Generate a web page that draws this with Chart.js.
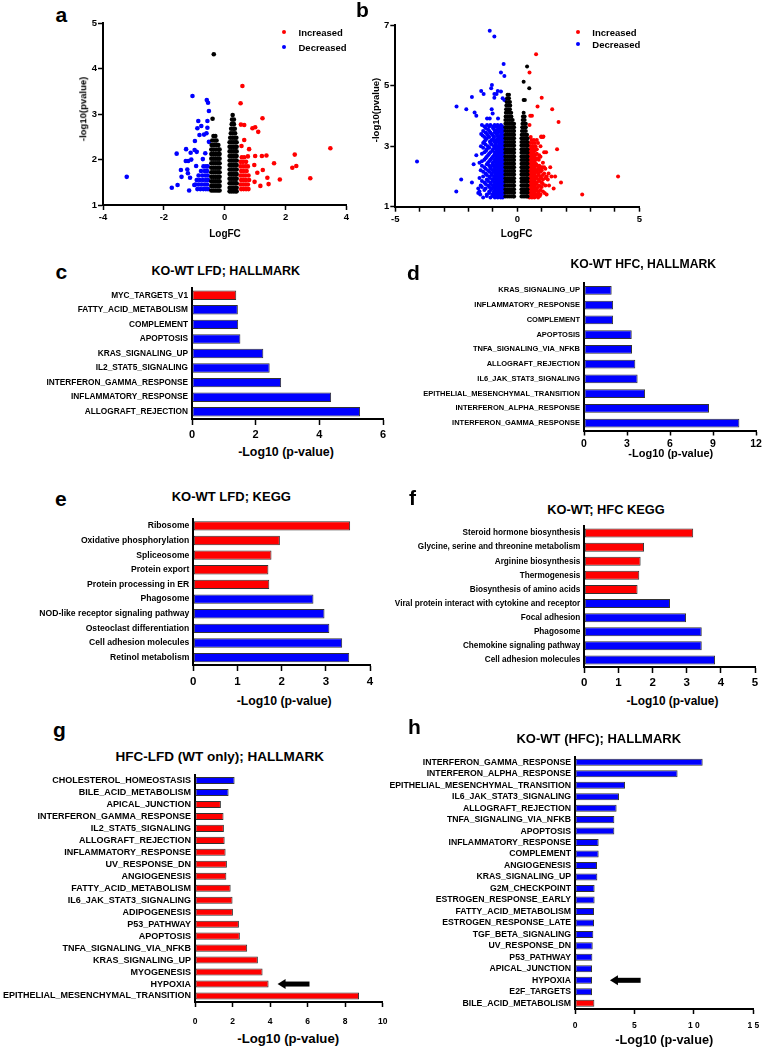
<!DOCTYPE html>
<html>
<head>
<meta charset="utf-8">
<script src="https://cdn.jsdelivr.net/npm/chart.js@4.4.1/dist/chart.umd.min.js"></script>
<style>
body { margin: 0; background: #fff; }
#page { position: relative; width: 763px; height: 1050px; overflow: hidden; font-family: 'Liberation Sans', Arial, sans-serif; font-weight: bold; color: #000; }
#page canvas { position: absolute; }
.t { position: absolute; white-space: nowrap; line-height: 1; }
.dot { position: absolute; border-radius: 50%; }
</style>
</head>
<body>
<div id="page"></div>
<script>
// ---------- volcano a (KO-WT LFD) : pairs are [logFC, -log10 p], rows are [y, x, x, ...] ----------
const aUpPairs = [[0.58,3.62],[0.52,3.24],[1.24,2.91],[0.53,2.77],[0.64,2.76],[0.91,2.69],[1.00,2.71],[1.10,2.61],[0.64,2.43],[0.55,2.30],
  [0.80,2.23],[1.00,2.08],[1.22,2.08],[1.37,2.09],[0.76,2.07],[3.47,2.25],[2.30,2.11],[1.62,1.92],[2.35,1.86],[2.22,1.82],
  [0.97,1.88],[1.25,1.77],[1.07,1.71],[1.40,1.60],[1.81,1.56],[2.81,1.59],[0.98,1.51],[1.44,1.46],[1.17,1.42]];
const aUpRows = [
  [2.05, 0.56, 0.64], [1.95, 0.52, 0.60, 0.70], [1.85, 0.52, 0.60, 0.68, 0.76], [1.75, 0.54, 0.62, 0.72],
  [1.65, 0.52, 0.60, 0.68, 0.78], [1.55, 0.54, 0.62, 0.70, 0.80], [1.45, 0.52, 0.60, 0.68, 0.76], [1.35, 0.54, 0.62, 0.70, 0.78]];
const aDownPairs = [[-3.22,1.62],[-1.06,3.40],[-0.59,3.31],[-0.55,3.25],[-0.52,3.07],[-0.87,2.85],[-0.57,2.85],[-0.77,2.74],[-0.90,2.69],
  [-0.57,2.70],[-0.60,2.58],[-0.83,2.54],[-0.68,2.55],[-0.98,2.41],[-0.52,2.39],[-1.27,2.23],[-1.12,2.15],[-0.99,2.21],[-0.92,2.17],
  [-1.58,2.13],[-1.28,1.97],[-1.20,1.97],[-1.10,2.00],[-0.72,2.01],[-0.64,2.14],[-0.94,1.86],[-1.44,1.77],[-1.23,1.78],[-1.42,1.62],
  [-1.21,1.70],[-1.14,1.60],[-1.74,1.38],[-1.55,1.44],[-1.17,1.32],[-1.00,1.44]];
const aDownRows = [
  [1.85, -0.70, -0.62, -0.56], [1.75, -0.78, -0.66, -0.58], [1.65, -0.86, -0.74, -0.64, -0.56],
  [1.55, -0.92, -0.82, -0.72, -0.62, -0.55], [1.45, -0.96, -0.86, -0.76, -0.66, -0.58], [1.35, -0.90, -0.80, -0.70, -0.62, -0.55]];
const aNsPairs = [[-0.36,4.32],[-0.40,2.90]];
const aNsRows = [
  [2.52, -0.37, -0.31], [2.42, -0.41, -0.33, -0.27], [2.32, -0.43, -0.35, -0.27, -0.21], [2.22, -0.44, -0.37, -0.29, -0.21, -0.17],
  [2.12, -0.44, -0.37, -0.30, -0.23, -0.17], [2.02, -0.44, -0.37, -0.30, -0.23, -0.17], [1.92, -0.44, -0.37, -0.30, -0.23, -0.17],
  [1.82, -0.44, -0.37, -0.30, -0.23, -0.17], [1.72, -0.44, -0.37, -0.30, -0.23, -0.17], [1.62, -0.44, -0.37, -0.30, -0.23, -0.17],
  [1.52, -0.44, -0.37, -0.30, -0.23, -0.17], [1.42, -0.44, -0.37, -0.30, -0.23, -0.17], [1.32, -0.44, -0.37, -0.30, -0.23, -0.17],
  [2.98, 0.26], [2.88, 0.24, 0.30], [2.78, 0.23, 0.30], [2.68, 0.21, 0.28, 0.33], [2.58, 0.20, 0.27, 0.34],
  [2.48, 0.18, 0.25, 0.32, 0.38], [2.38, 0.16, 0.22, 0.28, 0.34, 0.39], [2.28, 0.16, 0.22, 0.28, 0.34, 0.39],
  [2.18, 0.16, 0.22, 0.28, 0.34, 0.39], [2.08, 0.16, 0.22, 0.28, 0.34, 0.39], [1.98, 0.16, 0.22, 0.28, 0.34, 0.39],
  [1.88, 0.16, 0.22, 0.28, 0.34, 0.39], [1.78, 0.16, 0.22, 0.28, 0.34, 0.39], [1.68, 0.16, 0.22, 0.28, 0.34, 0.39],
  [1.58, 0.16, 0.22, 0.28, 0.34, 0.39], [1.48, 0.16, 0.22, 0.28, 0.34, 0.39], [1.38, 0.16, 0.22, 0.28, 0.34, 0.39],
  [1.30, 0.16, 0.22, 0.28, 0.34, 0.39]];
const aXTicks = [-4, 4, 2];   // min, max, step
const aYTicks = [1, 5, 1];

// ---------- volcano b (KO-WT HFC) ----------
const bUpPairs = [[0.77,6.03],[0.50,5.43],[1.00,4.60],[0.83,4.31],[1.43,4.22],[1.69,3.80],[0.53,4.00],[0.60,4.00],[0.50,3.70],
  [0.98,3.32],[1.07,3.32],[4.13,2.00],[2.66,1.40]];
const bUpRows = [
  [3.30, 0.55, 0.98, 1.05], [3.20, 0.58, 0.68, 0.80], [3.10, 0.52, 0.62, 0.72, 0.85], [3.00, 0.55, 0.65, 0.75, 0.95],
  [2.90, 0.50, 0.58, 0.68, 0.80, 1.63], [2.85, 0.52, 0.62, 0.72], [2.80, 0.55, 0.65, 1.10, 1.18], [2.75, 0.55, 0.66, 0.80],
  [2.70, 0.50, 0.60, 0.72, 0.90], [2.65, 0.50, 0.58, 0.68, 0.95], [2.60, 0.52, 0.62, 0.75, 0.85], [2.55, 0.55, 0.64, 0.75, 0.88],
  [2.50, 0.50, 0.58, 0.68], [2.45, 0.52, 0.60, 0.72, 1.05], [2.40, 0.55, 0.65, 0.78], [2.35, 0.56, 0.66, 0.82, 0.90],
  [2.30, 0.50, 0.60, 0.70, 0.95, 1.02, 1.10, 1.35], [2.25, 0.52, 0.60, 0.72, 0.86, 1.15], [2.20, 0.55, 0.65, 0.80, 0.90, 1.00],
  [2.15, 0.56, 0.66, 0.76, 0.95], [2.10, 0.50, 0.60, 0.70, 0.85, 1.10, 1.28], [2.05, 0.52, 0.60, 0.70, 0.88, 1.05],
  [2.00, 0.55, 0.65, 0.78, 0.95, 1.20, 1.40, 1.55], [1.95, 0.56, 0.66, 0.80, 0.98, 1.15], [1.90, 0.50, 0.60, 0.72, 0.88, 1.05, 1.25],
  [1.85, 0.52, 0.60, 0.70, 0.90], [1.80, 0.55, 0.65, 0.80, 1.00, 1.79], [1.75, 0.56, 0.68, 0.78, 1.05],
  [1.70, 0.50, 0.60, 0.70, 0.90, 1.15, 1.30], [1.65, 0.52, 0.60, 0.72, 0.85, 1.00], [1.60, 0.55, 0.65, 0.78, 1.49],
  [1.55, 0.56, 0.66, 0.80, 0.95], [1.50, 0.50, 0.60, 0.72, 0.85, 1.05], [1.45, 0.52, 0.60, 0.70, 0.88, 1.12],
  [1.40, 0.55, 0.65, 0.80, 0.95, 1.20], [1.35, 0.56, 0.66, 0.78, 0.92], [1.30, 0.50, 0.60, 0.70, 0.85]];
const bDownPairs = [[-1.13,6.81],[-0.94,6.62],[-0.56,5.71],[-0.67,5.43],[-0.53,5.32],[-1.04,5.02],[-1.07,4.91],[-1.48,4.82],[-1.38,4.72],
  [-0.80,4.82],[-0.67,4.80],[-0.94,4.72],[-0.85,4.72],[-1.86,4.62],[-0.94,4.60],[-0.60,4.58],[-0.53,4.52],[-2.49,4.31],[-2.09,4.22],
  [-1.75,4.11],[-1.68,4.00],[-1.05,4.22],[-1.01,4.08],[-1.24,3.91],[-1.13,3.91],[-0.79,3.91],[-4.11,2.49]];
const bDownRows = [
  [3.70, -1.45, -1.24, -1.10, -0.93, -0.81, -0.67], [3.65, -1.35, -1.15, -0.98, -0.86, -0.72, -0.62],
  [3.60, -1.30, -1.00, -0.75, -0.62], [3.55, -1.20, -0.95, -0.80, -0.66, -0.58],
  [3.50, -1.40, -1.15, -0.90, -0.70, -0.60], [3.45, -1.30, -1.10, -0.92, -0.78, -0.62],
  [3.40, -1.48, -1.24, -1.05, -0.85, -0.65], [3.35, -1.42, -1.20, -1.00, -0.82, -0.68, -0.58],
  [3.30, -1.35, -1.15, -0.95, -0.75, -0.60], [3.25, -1.25, -0.98, -0.80, -0.66, -0.58],
  [3.20, -1.30, -1.05, -0.85, -0.70, -0.62], [3.15, -1.35, -1.12, -0.95, -0.80, -0.68, -0.58],
  [3.10, -1.40, -1.10, -0.90, -0.75, -0.60], [3.05, -1.30, -1.05, -0.88, -0.72, -0.62],
  [3.00, -1.49, -1.20, -0.95, -0.80, -0.68, -0.60], [2.95, -1.40, -1.15, -0.92, -0.78, -0.66, -0.58],
  [2.90, -1.25, -1.00, -0.85, -0.72, -0.62], [2.85, -1.28, -1.02, -0.85, -0.72, -0.62],
  [2.80, -1.35, -1.10, -0.90, -0.78, -0.66, -0.58], [2.75, -1.45, -1.15, -0.92, -0.78, -0.66, -0.58],
  [2.70, -1.68, -1.20, -0.95, -0.82, -0.70, -0.60], [2.65, -1.25, -1.00, -0.85, -0.72, -0.62],
  [2.60, -1.30, -1.05, -0.88, -0.75, -0.64, -0.58], [2.55, -1.35, -1.10, -0.92, -0.78, -0.66, -0.58],
  [2.50, -1.45, -1.15, -0.95, -0.82, -0.70, -0.60], [2.45, -1.55, -1.20, -1.00, -0.85, -0.72, -0.62],
  [2.40, -1.79, -1.25, -1.02, -0.88, -0.75, -0.64, -0.58], [2.35, -1.45, -1.15, -0.98, -0.85, -0.72, -0.62],
  [2.30, -1.35, -1.10, -0.92, -0.80, -0.68, -0.60], [2.25, -1.30, -1.08, -0.92, -0.78, -0.66, -0.58],
  [2.20, -1.50, -1.20, -1.00, -0.85, -0.72, -0.62], [2.15, -1.40, -1.15, -0.98, -0.85, -0.72, -0.62],
  [2.10, -1.30, -1.05, -0.90, -0.78, -0.66, -0.58], [2.05, -1.25, -1.05, -0.90, -0.76, -0.64, -0.58],
  [2.00, -1.40, -1.15, -0.95, -0.82, -0.70, -0.60], [1.95, -1.55, -1.12, -0.95, -0.82, -0.70, -0.60],
  [1.90, -2.30, -1.25, -1.02, -0.88, -0.75, -0.64, -0.58], [1.85, -1.45, -1.20, -1.00, -0.86, -0.74, -0.62],
  [1.80, -1.86, -1.35, -1.10, -0.92, -0.80, -0.68, -0.60], [1.75, -1.30, -1.08, -0.92, -0.80, -0.68, -0.58],
  [1.70, -1.50, -1.20, -1.00, -0.85, -0.72, -0.62], [1.65, -1.45, -1.15, -0.98, -0.84, -0.72, -0.62],
  [1.60, -1.60, -1.30, -1.05, -0.90, -0.78, -0.66, -0.58], [1.55, -1.35, -1.08, -0.92, -0.78, -0.66, -0.58],
  [1.50, -2.50, -1.55, -1.15, -0.95, -0.82, -0.70, -0.60], [1.45, -1.60, -1.15, -0.98, -0.84, -0.72, -0.62],
  [1.40, -1.52, -1.25, -1.02, -0.88, -0.75, -0.64, -0.58], [1.35, -1.25, -1.02, -0.88, -0.75, -0.64, -0.58],
  [1.30, -1.40, -1.10, -0.92, -0.80, -0.68, -0.60]];
const bNsPairs = [[0.40,5.63],[0.26,5.13],[0.49,4.91],[0.26,4.52],[0.31,4.52]];
const bNsRows = [
  [4.70, -0.40, -0.34], [4.58, -0.42, -0.34], [4.46, -0.44, -0.36, -0.30], [4.34, -0.45, -0.37, -0.29], [4.22, -0.46, -0.38, -0.30],
  [4.10, -0.47, -0.39, -0.31, -0.25], [3.98, -0.48, -0.40, -0.32, -0.24], [3.86, -0.49, -0.41, -0.33, -0.25, -0.19],
  [3.74, -0.49, -0.41, -0.33, -0.25, -0.17, -0.13], [3.62, -0.49, -0.41, -0.33, -0.25, -0.17, -0.13],
  [3.50, -0.49, -0.41, -0.33, -0.25, -0.17, -0.13], [3.38, -0.49, -0.41, -0.33, -0.25, -0.17, -0.13],
  [3.26, -0.49, -0.41, -0.33, -0.25, -0.17, -0.13], [3.14, -0.49, -0.41, -0.33, -0.25, -0.17, -0.13],
  [3.02, -0.49, -0.41, -0.33, -0.25, -0.17, -0.13], [2.90, -0.49, -0.41, -0.33, -0.25, -0.17, -0.13],
  [2.78, -0.49, -0.41, -0.33, -0.25, -0.17, -0.13], [2.66, -0.49, -0.41, -0.33, -0.25, -0.17, -0.13],
  [2.54, -0.49, -0.41, -0.33, -0.25, -0.17, -0.13], [2.42, -0.49, -0.41, -0.33, -0.25, -0.17, -0.13],
  [2.30, -0.49, -0.41, -0.33, -0.25, -0.17, -0.13], [2.18, -0.49, -0.41, -0.33, -0.25, -0.17, -0.13],
  [2.06, -0.49, -0.41, -0.33, -0.25, -0.17, -0.13], [1.94, -0.49, -0.41, -0.33, -0.25, -0.17, -0.13],
  [1.82, -0.49, -0.41, -0.33, -0.25, -0.17, -0.13], [1.70, -0.49, -0.41, -0.33, -0.25, -0.17, -0.13],
  [1.58, -0.49, -0.41, -0.33, -0.25, -0.17, -0.13], [1.46, -0.49, -0.41, -0.33, -0.25, -0.17, -0.13],
  [1.34, -0.49, -0.41, -0.33, -0.25, -0.17, -0.13],
  [4.10, 0.26], [3.98, 0.23, 0.30], [3.86, 0.22, 0.30], [3.74, 0.21, 0.29, 0.35], [3.62, 0.20, 0.28, 0.35], [3.50, 0.19, 0.27, 0.35],
  [3.38, 0.18, 0.26, 0.34, 0.40], [3.26, 0.17, 0.24, 0.31, 0.38, 0.42], [3.14, 0.17, 0.24, 0.31, 0.38, 0.42],
  [3.02, 0.17, 0.24, 0.31, 0.38, 0.42], [2.90, 0.17, 0.24, 0.31, 0.38, 0.42], [2.78, 0.17, 0.24, 0.31, 0.38, 0.42],
  [2.66, 0.17, 0.24, 0.31, 0.38, 0.42], [2.54, 0.17, 0.24, 0.31, 0.38, 0.42], [2.42, 0.17, 0.24, 0.31, 0.38, 0.42],
  [2.30, 0.17, 0.24, 0.31, 0.38, 0.42], [2.18, 0.17, 0.24, 0.31, 0.38, 0.42], [2.06, 0.17, 0.24, 0.31, 0.38, 0.42],
  [1.94, 0.17, 0.24, 0.31, 0.38, 0.42], [1.82, 0.17, 0.24, 0.31, 0.38, 0.42], [1.70, 0.17, 0.24, 0.31, 0.38, 0.42],
  [1.58, 0.17, 0.24, 0.31, 0.38, 0.42], [1.46, 0.17, 0.24, 0.31, 0.38, 0.42], [1.34, 0.17, 0.24, 0.31, 0.38, 0.42]];
const bXTicks = [-5, 5, 1];
const bYTicks = [1, 7, 2];

// ---------- enrichment bars (-log10 p); up = 1 means increased (red), 0 decreased (blue) ----------
const cLabels = ['MYC_TARGETS_V1','FATTY_ACID_METABOLISM','COMPLEMENT','APOPTOSIS','KRAS_SIGNALING_UP','IL2_STAT5_SIGNALING',
  'INTERFERON_GAMMA_RESPONSE','INFLAMMATORY_RESPONSE','ALLOGRAFT_REJECTION'];
const cValues = [1.39, 1.44, 1.45, 1.52, 2.24, 2.44, 2.80, 4.37, 5.28];
const cUp = [1, 0, 0, 0, 0, 0, 0, 0, 0];

const dLabels = ['KRAS_SIGNALING_UP','INFLAMMATORY_RESPONSE','COMPLEMENT','APOPTOSIS','TNFA_SIGNALING_VIA_NFKB','ALLOGRAFT_REJECTION',
  'IL6_JAK_STAT3_SIGNALING','EPITHELIAL_MESENCHYMAL_TRANSITION','INTERFERON_ALPHA_RESPONSE','INTERFERON_GAMMA_RESPONSE'];
const dValues = [1.93, 2.03, 2.03, 3.33, 3.35, 3.58, 3.74, 4.26, 8.72, 10.84];
const dUp = [0, 0, 0, 0, 0, 0, 0, 0, 0, 0];

const eLabels = ['Ribosome','Oxidative phosphorylation','Spliceosome','Protein export','Protein processing in ER','Phagosome',
  'NOD-like receptor signaling pathway','Osteoclast differentiation','Cell adhesion molecules','Retinol metabolism'];
const eValues = [3.55, 1.96, 1.77, 1.70, 1.72, 2.72, 2.97, 3.08, 3.37, 3.53];
const eUp = [1, 1, 1, 1, 1, 0, 0, 0, 0, 0];

const fLabels = ['Steroid hormone biosynthesis','Glycine, serine and threonine metabolism','Arginine biosynthesis','Thermogenesis',
  'Biosynthesis of amino acids','Viral protein interact with cytokine and receptor','Focal adhesion','Phagosome',
  'Chemokine signaling pathway','Cell adhesion molecules'];
const fValues = [3.19, 1.75, 1.65, 1.61, 1.56, 2.51, 2.98, 3.44, 3.44, 3.83];
const fUp = [1, 1, 1, 1, 1, 0, 0, 0, 0, 0];

const gLabels = ['CHOLESTEROL_HOMEOSTASIS','BILE_ACID_METABOLISM','APICAL_JUNCTION','INTERFERON_GAMMA_RESPONSE','IL2_STAT5_SIGNALING',
  'ALLOGRAFT_REJECTION','INFLAMMATORY_RESPONSE','UV_RESPONSE_DN','ANGIOGENESIS','FATTY_ACID_METABOLISM','IL6_JAK_STAT3_SIGNALING',
  'ADIPOGENESIS','P53_PATHWAY','APOPTOSIS','TNFA_SIGNALING_VIA_NFKB','KRAS_SIGNALING_UP','MYOGENESIS','HYPOXIA',
  'EPITHELIAL_MESENCHYMAL_TRANSITION'];
const gValues = [2.11, 1.79, 1.38, 1.52, 1.54, 1.58, 1.63, 1.70, 1.67, 1.90, 2.00, 2.02, 2.34, 2.39, 2.78, 3.35, 3.60, 3.92, 8.74];
const gUp = [0, 0, 1, 1, 1, 1, 1, 1, 1, 1, 1, 1, 1, 1, 1, 1, 1, 1, 1];
const gArrow = { category: 'HYPOXIA', from: 6.1, to: 4.4 };

const hLabels = ['INTERFERON_GAMMA_RESPONSE','INTERFERON_ALPHA_RESPONSE','EPITHELIAL_MESENCHYMAL_TRANSITION','IL6_JAK_STAT3_SIGNALING',
  'ALLOGRAFT_REJECTION','TNFA_SIGNALING_VIA_NFKB','APOPTOSIS','INFLAMMATORY_RESPONSE','COMPLEMENT','ANGIOGENESIS','KRAS_SIGNALING_UP',
  'G2M_CHECKPOINT','ESTROGEN_RESPONSE_EARLY','FATTY_ACID_METABOLISM','ESTROGEN_RESPONSE_LATE','TGF_BETA_SIGNALING','UV_RESPONSE_DN',
  'P53_PATHWAY','APICAL_JUNCTION','HYPOXIA','E2F_TARGETS','BILE_ACID_METABOLISM'];
const hValues = [10.74, 8.63, 4.21, 3.70, 3.50, 3.31, 3.31, 1.99, 1.99, 1.85, 1.88, 1.65, 1.65, 1.60, 1.60, 1.54, 1.49, 1.46, 1.43, 1.43, 1.43, 1.63];
const hUp = [0, 0, 0, 0, 0, 0, 0, 0, 0, 0, 0, 0, 0, 0, 0, 0, 0, 0, 0, 0, 0, 1];
const hArrow = { category: 'HYPOXIA', from: 5.52, to: 2.94 };

const RED = '#ff0000', BLUE = '#0000ff', FONT = "'Liberation Sans', Arial, sans-serif";
Chart.defaults.font.family = FONT;
Chart.defaults.font.weight = 'bold';
Chart.defaults.color = '#000';

const page = document.getElementById('page');

function fromPairs(p) { return p.map(v => ({ x: v[0], y: v[1] })); }
function fromRows(r) { return r.flatMap(row => row.slice(1).map(x => ({ x: x, y: row[0] }))); }

// canvas sized so that the plot area lands on box (page px)
function place(box, pad) {
  const left = Math.floor(box.l - pad.l), top = Math.floor(box.t - pad.t);
  const right = Math.ceil(box.r + pad.r), bottom = Math.ceil(box.b + pad.b);
  const cv = document.createElement('canvas');
  cv.width = right - left;
  cv.height = bottom - top;
  cv.style.left = left + 'px';
  cv.style.top = top + 'px';
  page.appendChild(cv);
  return { cv: cv, padTop: box.t - top, padRight: right - box.r, yW: box.l - left, xH: bottom - box.b };
}

function txt(s, x, base, size, align) {
  const d = document.createElement('div');
  d.className = 't';
  d.textContent = s;
  d.style.fontSize = size + 'px';
  d.style.left = x + 'px';
  d.style.top = (base - 0.8465 * size) + 'px';
  if (align === 'center') d.style.transform = 'translateX(-50%)';
  page.appendChild(d);
}

function vtxt(s, cx, cy, size) {
  const d = document.createElement('div');
  d.className = 't';
  d.textContent = s;
  d.style.fontSize = size + 'px';
  d.style.left = cx + 'px';
  d.style.top = cy + 'px';
  d.style.transform = 'translate(-50%,-50%) rotate(-90deg)';
  page.appendChild(d);
}

function dot(cx, cy, r, color) {
  const d = document.createElement('div');
  d.className = 'dot';
  d.style.left = (cx - r) + 'px';
  d.style.top = (cy - r) + 'px';
  d.style.width = d.style.height = (2 * r) + 'px';
  d.style.background = color;
  page.appendChild(d);
}

function volcano(sets, xt, yt, box, o) {
  const L = place(box, { l: 33, t: 8, r: 10, b: 24 });
  new Chart(L.cv, {
    type: 'scatter',
    data: {
      datasets: [
        { data: sets.ns, backgroundColor: '#000', pointRadius: o.r, pointBorderWidth: 0 },
        { data: sets.down, backgroundColor: BLUE, pointRadius: o.r, pointBorderWidth: 0 },
        { data: sets.up, backgroundColor: RED, pointRadius: o.r, pointBorderWidth: 0 }
      ]
    },
    options: {
      responsive: false, animation: false, events: [],
      layout: { padding: { left: 0, top: L.padTop, right: L.padRight, bottom: 0 } },
      plugins: { legend: { display: false }, tooltip: { enabled: false } },
      scales: {
        x: {
          min: xt[0], max: xt[1],
          ticks: { stepSize: xt[2], font: { size: 9.5 }, padding: o.xPad, maxRotation: 0, autoSkip: false, callback: o.xFmt },
          grid: { drawOnChartArea: false, tickLength: 5, tickColor: '#000', tickWidth: 1.5 },
          border: { color: '#000', width: 2 },
          afterFit: s => { s.height = L.xH; s.paddingLeft = 0; s.paddingRight = 0; }
        },
        y: {
          min: yt[0], max: yt[1],
          ticks: { stepSize: yt[2], font: { size: 9.5 }, padding: 1 },
          grid: { drawOnChartArea: false, tickLength: 5, tickColor: '#000', tickWidth: 1.5 },
          border: { color: '#000', width: 2 },
          afterFit: s => { s.width = L.yW; s.paddingTop = 0; s.paddingBottom = 0; }
        }
      }
    }
  });
}

function arrowPlugin(a) {
  return {
    id: 'arrow',
    afterDatasetsDraw(chart) {
      const ctx = chart.ctx, x = chart.scales.x, y = chart.scales.y;
      const yy = y.getPixelForValue(y.getLabels().indexOf(a.category));
      const x0 = x.getPixelForValue(a.from), x1 = x.getPixelForValue(a.to);
      ctx.save();
      ctx.fillStyle = '#000';
      ctx.fillRect(x1 + 7, yy - 2.5, x0 - x1 - 7, 5);
      ctx.beginPath();
      ctx.moveTo(x1, yy);
      ctx.lineTo(x1 + 8, yy - 5);
      ctx.lineTo(x1 + 8, yy + 5);
      ctx.closePath();
      ctx.fill();
      ctx.restore();
    }
  };
}

function bars(labels, values, up, box, o) {
  const L = place(box, { l: o.yW, t: 3, r: o.r || 12, b: 26 });
  new Chart(L.cv, {
    type: 'bar',
    data: {
      labels: labels,
      datasets: [{
        data: values,
        backgroundColor: up.map(u => u ? RED : BLUE),
        borderColor: '#333', borderWidth: 1, borderSkipped: false,
        barPercentage: o.bar, categoryPercentage: 1
      }]
    },
    options: {
      indexAxis: 'y', responsive: false, animation: false, events: [],
      layout: { padding: { left: 0, top: L.padTop, right: L.padRight, bottom: 0 } },
      plugins: { legend: { display: false }, tooltip: { enabled: false } },
      scales: {
        x: {
          min: 0, max: o.max,
          ticks: { stepSize: o.step, font: { size: o.tick }, padding: o.tickPad, maxRotation: 0, autoSkip: false, callback: o.fmt },
          grid: { drawOnChartArea: false, tickLength: o.tl, tickColor: '#000', tickWidth: 1.5 },
          border: { color: '#000', width: 2 },
          afterFit: s => { s.height = L.xH; s.paddingLeft = 0; s.paddingRight = 0; }
        },
        y: {
          ticks: { font: { size: o.lab }, padding: 4, autoSkip: false },
          grid: { display: false, drawTicks: false },
          border: { color: '#000', width: 2 },
          afterFit: s => { s.width = L.yW; s.paddingTop = 0; s.paddingBottom = 0; }
        }
      }
    },
    plugins: o.arrow ? [arrowPlugin(o.arrow)] : []
  });
}

// a
volcano({ up: fromPairs(aUpPairs).concat(fromRows(aUpRows)), down: fromPairs(aDownPairs).concat(fromRows(aDownRows)),
  ns: fromPairs(aNsPairs).concat(fromRows(aNsRows)) }, aXTicks, aYTicks, { l: 103, t: 23.3, r: 346.5, b: 205 }, { r: 2.3, xPad: 2 });
// b
volcano({ up: fromPairs(bUpPairs).concat(fromRows(bUpRows)), down: fromPairs(bDownPairs).concat(fromRows(bDownRows)),
  ns: fromPairs(bNsPairs).concat(fromRows(bNsRows)) }, bXTicks, bYTicks, { l: 395.3, t: 25, r: 639.3, b: 206.7 },
  { r: 2, xPad: 2.4, xFmt: v => (v % 5 === 0 ? v : '') });

// c - h
bars(cLabels, cValues, cUp, { l: 192, t: 288, r: 383, b: 419 }, { yW: 162, max: 6, step: 2, tick: 11, tickPad: 3.4, tl: 6, lab: 8.3, bar: 0.65 });
bars(dLabels, dValues, dUp, { l: 584, t: 283, r: 756, b: 430.5 }, { yW: 199, r: 6, max: 12, step: 3, tick: 10.5, tickPad: 1.9, tl: 5, lab: 7.5, bar: 0.61 });
bars(eLabels, eValues, eUp, { l: 193.3, t: 518.5, r: 370, b: 665 }, { yW: 158, max: 4, step: 1, tick: 11.5, tickPad: 3.8, tl: 6, lab: 8.6, bar: 0.64 });
bars(fLabels, fValues, fUp, { l: 584.3, t: 526, r: 755, b: 667 }, { yW: 199, r: 7, max: 5, step: 1, tick: 11.5, tickPad: 2.9, tl: 6, lab: 8.2, bar: 0.64 });
bars(gLabels, gValues, gUp, { l: 195, t: 774.5, r: 382.7, b: 1002 }, { yW: 195, max: 10, step: 2, tick: 8.5, tickPad: 9.1, tl: 5, lab: 9, bar: 0.59, arrow: gArrow });
bars(hLabels, hValues, hUp, { l: 575, t: 756.5, r: 753.3, b: 1009 }, { yW: 195, r: 8, max: 15, step: 5, tick: 8.5, tickPad: 6.4, tl: 5, lab: 8.7, bar: 0.61,
  arrow: hArrow, fmt: v => String(v).split('').join(' ') });

// panel letters
txt('a', 55.5, 21.7, 21); txt('b', 356, 16.7, 21); txt('c', 55.5, 278.3, 21); txt('d', 407, 280, 21);
txt('e', 55, 506, 21); txt('f', 409, 505, 21); txt('g', 53, 737, 21); txt('h', 408, 733.3, 21);

// volcano texts and legends
txt('LogFC', 225, 237.3, 10, 'center'); txt('LogFC', 516.7, 237.3, 10, 'center');
vtxt('-log10(pvalue)', 83, 109, 9.5); vtxt('-log10(pvalue)', 376, 110, 9.5);
dot(284.3, 32.3, 2.2, RED); txt('Increased', 298.5, 36, 9.5);
dot(284.3, 47.3, 2.2, BLUE); txt('Decreased', 298.5, 50.7, 9.5);
dot(578.3, 32, 2.2, RED); txt('Increased', 592.3, 35.7, 9.5);
dot(578.3, 44.3, 2.2, BLUE); txt('Decreased', 592.3, 48.3, 9.5);

// titles
txt('KO-WT LFD; HALLMARK', 225.8, 276, 12.5, 'center');
txt('KO-WT HFC, HALLMARK', 643.3, 268.3, 12.2, 'center');
txt('KO-WT LFD; KEGG', 231.3, 500.7, 13, 'center');
txt('KO-WT; HFC KEGG', 606, 514.5, 12.8, 'center');
txt('HFC-LFD (WT only); HALLMARK', 219.8, 761.7, 13.5, 'center');
txt('KO-WT (HFC); HALLMARK', 598.8, 743.5, 13, 'center');

// x axis titles
txt('-Log10 (p-value)', 286, 456.5, 12.4, 'center');
txt('-Log10 (p-value)', 670.8, 457.3, 11, 'center');
txt('-Log10 (p-value)', 284.2, 705.6, 12.3, 'center');
txt('-Log10 (p-value)', 672.5, 705.6, 11.9, 'center');
txt('-Log10 (p-value)', 288.2, 1043.3, 13.2, 'center');
txt('-Log10 (p-value)', 664.2, 1044.3, 12.7, 'center');
</script>
</body>
</html>
